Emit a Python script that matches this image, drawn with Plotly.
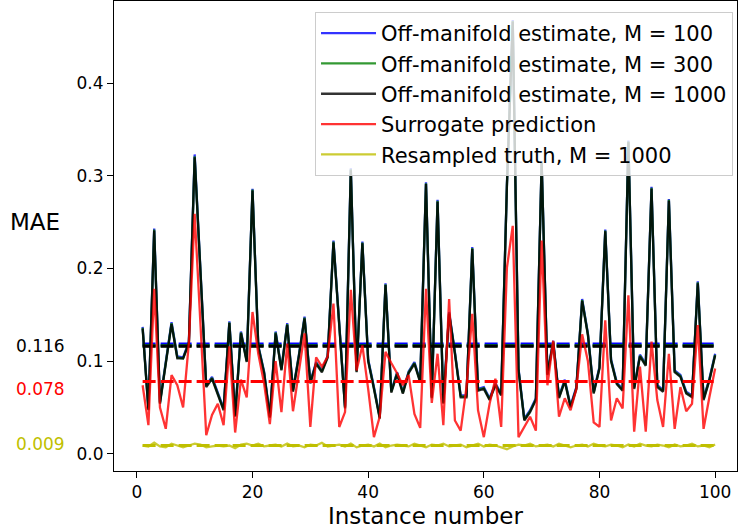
import plotly.graph_objects as go

instances = list(range(1, 101))

mae_m100 = [0.137, 0.049, 0.243, 0.056, 0.099, 0.142, 0.105, 0.104, 0.121, 0.323,
            0.198, 0.074, 0.083, 0.066, 0.049, 0.143, 0.042, 0.132, 0.101, 0.286,
            0.117, 0.089, 0.041, 0.132, 0.092, 0.141, 0.069, 0.106, 0.148, 0.078,
            0.099, 0.090, 0.106, 0.230, 0.142, 0.051, 0.308, 0.090, 0.229, 0.102,
            0.072, 0.040, 0.184, 0.068, 0.088, 0.067, 0.089, 0.099, 0.079, 0.293,
            0.062, 0.274, 0.056, 0.153, 0.110, 0.063, 0.063, 0.223, 0.070, 0.072,
            0.060, 0.076, 0.065, 0.292, 0.468, 0.092, 0.038, 0.047, 0.060, 0.316,
            0.087, 0.122, 0.062, 0.080, 0.052, 0.072, 0.167, 0.130, 0.067, 0.094,
            0.242, 0.102, 0.077, 0.070, 0.338, 0.072, 0.107, 0.097, 0.288, 0.074,
            0.069, 0.275, 0.090, 0.085, 0.067, 0.063, 0.186, 0.060, 0.081, 0.108]

mae_m300 = [0.136, 0.048, 0.242, 0.055, 0.098, 0.141, 0.104, 0.103, 0.120, 0.321,
            0.197, 0.073, 0.082, 0.065, 0.048, 0.142, 0.041, 0.131, 0.100, 0.285,
            0.116, 0.088, 0.040, 0.131, 0.091, 0.140, 0.068, 0.105, 0.147, 0.077,
            0.098, 0.089, 0.105, 0.229, 0.141, 0.050, 0.307, 0.089, 0.228, 0.101,
            0.071, 0.039, 0.183, 0.067, 0.087, 0.066, 0.088, 0.098, 0.078, 0.292,
            0.061, 0.273, 0.055, 0.152, 0.109, 0.062, 0.062, 0.222, 0.069, 0.071,
            0.059, 0.075, 0.064, 0.291, 0.467, 0.091, 0.037, 0.046, 0.059, 0.315,
            0.086, 0.121, 0.061, 0.079, 0.051, 0.071, 0.166, 0.129, 0.066, 0.093,
            0.241, 0.101, 0.076, 0.069, 0.337, 0.071, 0.106, 0.096, 0.287, 0.073,
            0.068, 0.274, 0.089, 0.084, 0.066, 0.062, 0.185, 0.059, 0.080, 0.107]

mae_m1000 = [0.135, 0.047, 0.241, 0.054, 0.097, 0.140, 0.103, 0.103, 0.119, 0.320,
             0.196, 0.072, 0.081, 0.064, 0.047, 0.141, 0.040, 0.130, 0.099, 0.284,
             0.115, 0.087, 0.039, 0.130, 0.090, 0.139, 0.067, 0.104, 0.146, 0.076,
             0.097, 0.088, 0.104, 0.228, 0.140, 0.049, 0.306, 0.088, 0.227, 0.100,
             0.070, 0.038, 0.182, 0.066, 0.086, 0.065, 0.087, 0.097, 0.077, 0.291,
             0.060, 0.272, 0.054, 0.151, 0.108, 0.061, 0.061, 0.221, 0.068, 0.070,
             0.058, 0.074, 0.063, 0.290, 0.466, 0.090, 0.036, 0.045, 0.058, 0.314,
             0.085, 0.120, 0.060, 0.078, 0.050, 0.070, 0.165, 0.128, 0.065, 0.092,
             0.240, 0.100, 0.075, 0.068, 0.336, 0.070, 0.105, 0.095, 0.286, 0.072,
             0.067, 0.273, 0.088, 0.083, 0.065, 0.061, 0.184, 0.058, 0.079, 0.106]

mae_surrogate = [0.074, 0.031, 0.178, 0.050, 0.027, 0.085, 0.074, 0.050, 0.120, 0.259,
                 0.140, 0.020, 0.042, 0.054, 0.031, 0.116, 0.023, 0.080, 0.061, 0.153,
                 0.108, 0.076, 0.032, 0.100, 0.045, 0.119, 0.046, 0.090, 0.130, 0.029,
                 0.104, 0.094, 0.105, 0.162, 0.029, 0.045, 0.177, 0.090, 0.117, 0.070,
                 0.018, 0.040, 0.110, 0.098, 0.087, 0.074, 0.085, 0.043, 0.028, 0.178,
                 0.055, 0.108, 0.031, 0.167, 0.036, 0.025, 0.072, 0.151, 0.047, 0.018,
                 0.054, 0.081, 0.029, 0.201, 0.246, 0.018, 0.029, 0.040, 0.025, 0.230,
                 0.074, 0.122, 0.040, 0.060, 0.047, 0.070, 0.129, 0.100, 0.034, 0.029,
                 0.144, 0.036, 0.060, 0.049, 0.171, 0.024, 0.094, 0.024, 0.121, 0.058,
                 0.029, 0.108, 0.027, 0.072, 0.046, 0.054, 0.139, 0.027, 0.061, 0.092]

mae_resampled = [0.009, 0.008, 0.012, 0.008, 0.007, 0.011, 0.009, 0.007, 0.009, 0.011,
                 0.010, 0.007, 0.008, 0.009, 0.008, 0.009, 0.006, 0.010, 0.011, 0.009,
                 0.011, 0.008, 0.009, 0.010, 0.008, 0.011, 0.008, 0.009, 0.007, 0.010,
                 0.009, 0.012, 0.008, 0.009, 0.010, 0.008, 0.011, 0.007, 0.009, 0.010,
                 0.008, 0.011, 0.007, 0.009, 0.010, 0.009, 0.008, 0.011, 0.009, 0.007,
                 0.010, 0.009, 0.011, 0.008, 0.009, 0.010, 0.007, 0.009, 0.011, 0.008,
                 0.010, 0.009, 0.007, 0.005, 0.008, 0.010, 0.009, 0.011, 0.008, 0.009,
                 0.010, 0.008, 0.011, 0.009, 0.007, 0.009, 0.010, 0.008, 0.011, 0.009,
                 0.008, 0.010, 0.009, 0.007, 0.010, 0.008, 0.011, 0.009, 0.008, 0.010,
                 0.009, 0.007, 0.010, 0.008, 0.009, 0.011, 0.008, 0.009, 0.007, 0.010]

mean_m100 = 0.1185
mean_m300 = 0.1165
mean_m1000 = 0.116
mean_surrogate = 0.078
mean_resampled = 0.009

series_names = ["Off-manifold estimate, M = 100", "Off-manifold estimate, M = 300",
                "Off-manifold estimate, M = 1000", "Surrogate prediction",
                "Resampled truth, M = 1000"]
mean_labels = ["0.116", "0.078", "0.009"]
x_ticks = [0, 20, 40, 60, 80, 100]
y_ticks = [0.0, 0.1, 0.2, 0.3, 0.4]

FONT = "DejaVu Sans"
colors = ["rgba(0,0,255,0.8)", "rgba(0,128,0,0.8)", "rgba(0,0,0,0.8)",
          "rgba(255,0,0,0.8)", "rgba(191,191,0,0.8)"]
dash_colors = ["rgb(0,0,255)", "rgb(0,128,0)", "rgb(0,0,0)", "rgb(255,0,0)", "rgb(191,191,0)"]

fig = go.Figure()
series = [mae_m100, mae_m300, mae_m1000, mae_surrogate, mae_resampled]
means = [mean_m100, mean_m300, mean_m1000, mean_surrogate, mean_resampled]
for i, (name, vals, m) in enumerate(zip(series_names, series, means)):
    fig.add_trace(go.Scatter(x=instances, y=vals, mode="lines", name=name,
                             line=dict(color=colors[i], width=2.3)))
    fig.add_trace(go.Scatter(x=[instances[0], instances[-1]], y=[m, m], mode="lines",
                             showlegend=False, hoverinfo="skip",
                             line=dict(color=dash_colors[i], width=3, dash="13px,5px")))

# plot area: x from 114 to 737 px, y from 1 to 471 px
ann = []
ann.append(dict(text="MAE", x=-0.127, y=0.530, xref="paper", yref="paper",
                showarrow=False, font=dict(family=FONT, size=23, color="black"),
                xanchor="center", yanchor="middle"))
ann.append(dict(text="Instance number", x=0.5, y=-0.0957, xref="paper", yref="paper",
                showarrow=False, font=dict(family=FONT, size=23, color="black"),
                xanchor="center", yanchor="middle"))
label_colors = ["black", "red", "#bfbf00"]
label_y = [0.116, 0.070, 0.011]
for t, c, yv in zip(mean_labels, label_colors, label_y):
    ann.append(dict(text=t, x=-0.118, y=yv, xref="paper", yref="y", showarrow=False,
                    font=dict(family=FONT, size=17, color=c),
                    xanchor="center", yanchor="middle"))

fig.update_layout(
    width=740, height=530,
    margin=dict(l=114, r=3, t=1, b=59, autoexpand=False),
    paper_bgcolor="white", plot_bgcolor="white",
    font=dict(family=FONT, size=17, color="black"),
    annotations=ann,
    showlegend=True,
    legend=dict(x=0.9936, y=0.9766, xanchor="right", yanchor="top",
                bgcolor="rgba(255,255,255,0.8)", bordercolor="#cccccc", borderwidth=1,
                font=dict(family=FONT, size=21, color="black"),
                traceorder="normal", itemwidth=55),
    xaxis=dict(range=[-3.95, 103.78], tickvals=x_ticks, ticks="outside", ticklen=6,
               tickwidth=1, tickcolor="black", showline=True, linecolor="black",
               linewidth=1, mirror=True, showgrid=False, zeroline=False, automargin=False,
               tickfont=dict(family=FONT, size=17, color="black")),
    yaxis=dict(range=[-0.0185, 0.4885], tickvals=y_ticks, tickformat=".1f",
               ticks="outside", ticklen=6, tickwidth=1, tickcolor="black",
               showline=True, linecolor="black", linewidth=1, mirror=True,
               showgrid=False, zeroline=False, automargin=False,
               tickfont=dict(family=FONT, size=17, color="black")),
)

fig.write_html("out.html", config={"displayModeBar": False},
               post_script="document.body.style.margin='0px';")
